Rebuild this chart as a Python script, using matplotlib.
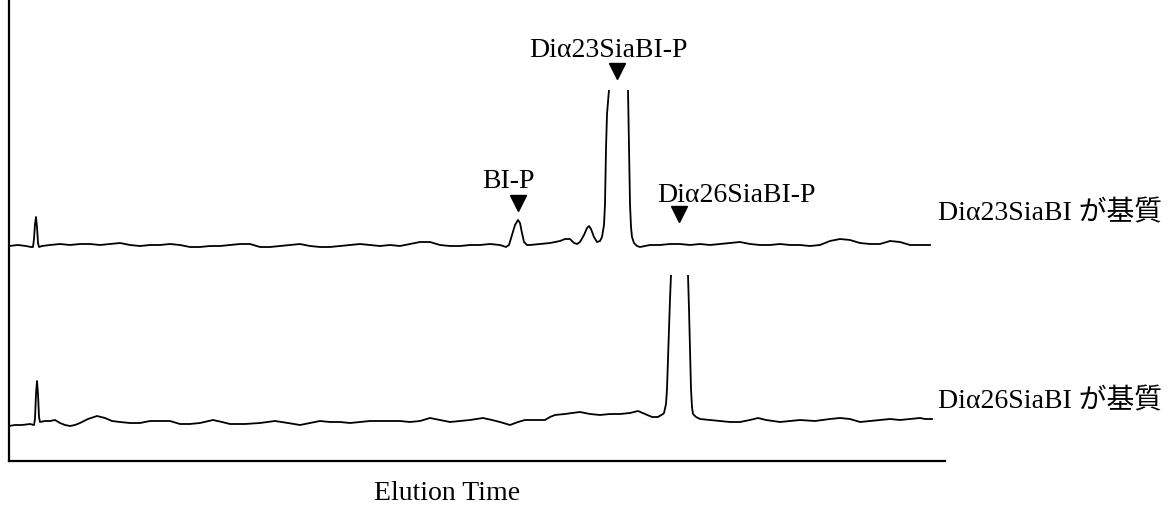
import matplotlib.pyplot as plt

# (elution time [s], detector signal relative to the baseline)
# upper run: Diα23SiaBI as substrate
run_23 = [(0, -1), (9, 0), (17, -1), (22, -2), (24, -2), (25, 6), (26, 21), (27, 28),
          (28, 18), (29, 2), (30, -2), (33, -1), (41, 0), (51, 1), (61, 0), (71, 1),
          (81, 1), (91, 0), (101, 1), (111, 2), (121, 0), (131, -1), (141, 0), (151, 0),
          (161, 1), (171, 0), (181, -2), (191, -2), (201, -1), (211, -1), (221, 0),
          (231, 1), (241, 1), (251, -2), (261, -2), (271, -1), (281, 0), (291, 1),
          (301, -1), (311, -2), (321, -2), (331, -1), (341, 0), (351, 1), (361, 0),
          (371, -1), (381, 0), (391, -1), (401, 1), (411, 3), (421, 3), (431, 0),
          (441, -1), (451, -1), (461, 0), (471, 0), (481, 1), (491, 0), (497, -2),
          (500, 0), (503, 10), (506, 20), (509, 25), (511, 22), (513, 12), (515, 3),
          (518, 0), (521, 0), (531, 1), (541, 2), (551, 4), (556, 6), (561, 6),
          (565, 2), (568, 1), (571, 3), (575, 10), (578, 17), (580, 19), (582, 16),
          (585, 8), (588, 3), (591, 4), (593, 8), (595, 20), (596, 41), (597, 96),
          (598, 131), (600, 155), (604, 420), (609, 800), (614, 420), (619, 155),
          (620, 96), (621, 41), (622, 18), (623, 8), (625, 2), (628, -1), (631, -2),
          (641, 0), (651, 0), (661, 1), (671, 1), (681, 0), (691, 1), (701, 0),
          (711, 1), (721, 2), (731, 3), (741, 1), (751, 0), (761, 0), (771, 1),
          (781, 0), (791, 0), (801, -1), (811, 0), (821, 4), (831, 6), (841, 5),
          (851, 2), (861, 1), (871, 1), (881, 4), (891, 3), (901, 0), (911, 0), (921, 0)]

# lower run: Diα26SiaBI as substrate
run_26 = [(0, -2), (6, -1), (13, -1), (21, 0), (25, -1), (26, 5), (27, 30), (28, 43),
          (29, 30), (30, 7), (31, 2), (36, 3), (41, 3), (46, 4), (51, 1), (56, -1),
          (61, -2), (66, -1), (71, 1), (79, 5), (88, 8), (96, 6), (103, 3), (111, 2),
          (121, 1), (131, 1), (141, 3), (151, 3), (161, 3), (171, 0), (181, 0),
          (191, 1), (204, 4), (213, 2), (221, 0), (236, 0), (251, 1), (266, 3),
          (279, 1), (291, -1), (301, 1), (311, 3), (321, 2), (331, 2), (341, 1),
          (351, 2), (361, 3), (376, 3), (391, 3), (401, 2), (411, 3), (421, 6),
          (431, 4), (441, 2), (451, 3), (461, 4), (474, 6), (483, 4), (491, 2),
          (501, -1), (509, 2), (516, 4), (526, 4), (536, 4), (541, 7), (546, 9),
          (556, 10), (563, 11), (571, 12), (581, 10), (591, 9), (601, 10), (611, 10),
          (621, 11), (629, 13), (636, 10), (643, 7), (649, 7), (654, 10), (655, 11),
          (657, 20), (658, 35), (659, 65), (660, 95), (661, 125), (662, 149),
          (666, 450), (671, 800), (676, 450), (679, 149), (680, 115), (681, 75),
          (682, 35), (683, 17), (684, 10), (687, 7), (691, 5), (701, 4), (711, 3),
          (721, 2), (731, 2), (741, 4), (749, 6), (757, 4), (771, 2), (781, 3),
          (791, 4), (806, 3), (821, 5), (831, 6), (841, 5), (851, 2), (861, 3),
          (871, 4), (881, 5), (891, 4), (901, 5), (911, 6), (916, 5), (923, 5)]

t_23, sig_23 = zip(*run_23)
t_26, sig_26 = zip(*run_26)

peak_labels = ["BI-P", "Diα23SiaBI-P", "Diα26SiaBI-P"]
run_labels = ["Diα23SiaBI が基質", "Diα26SiaBI が基質"]

plt.rcParams['font.family'] = ['Liberation Serif', 'Noto Sans CJK JP']

W, H = 1173, 506
fig = plt.figure(figsize=(W / 100, H / 100), dpi=100)

left, right, bottom = 9, 945, 462  # pixel positions of the frame
t_max = right - left


def frac_axes(top_px):
    return [left / W, (H - bottom) / H, (right - left) / W, (bottom - top_px) / H]


# frame with only the left and bottom spines
ax = fig.add_axes(frac_axes(0))
ax.set_xlim(0, t_max)
ax.set_ylim(0, bottom)
for side in ['top', 'right']:
    ax.spines[side].set_visible(False)
for side in ['left', 'bottom']:
    ax.spines[side].set_linewidth(1.6)
ax.set_xticks([])
ax.set_yticks([])

# each run in its own clipped panel, so the big peaks run off-scale
ax_up = fig.add_axes(frac_axes(91))
ax_up.plot(t_23, sig_23, color='black', lw=1.3)
ax_up.set_xlim(0, t_max)
ax_up.set_ylim(246 - bottom, 246 - 91)
ax_up.axis('off')

ax_lo = fig.add_axes(frac_axes(276))
ax_lo.plot(t_26, sig_26, color='black', lw=1.3)
ax_lo.set_xlim(0, t_max)
ax_lo.set_ylim(425 - bottom, 425 - 276)
ax_lo.axis('off')

# peak markers (heights in frame pixels above the bottom spine)
tri_x = [508.5, 608, 670]
tri_h = [258.5, 390, 247]
txt_x = [499, 599, 727]
txt_h = [274, 405, 260]
for lab, tx, th, mx, mh in zip(peak_labels, txt_x, txt_h, tri_x, tri_h):
    ax.plot(mx, mh, marker='v', color='black', markersize=11, clip_on=False)
    ax.text(tx, th, lab, ha='center', va='baseline', fontsize=20)

fig.text(938 / W, 1 - 220 / H, run_labels[0], fontsize=20, va='baseline')
fig.text(938 / W, 1 - 408 / H, run_labels[1], fontsize=20, va='baseline')
fig.text(447.5 / W, 1 - 500 / H, "Elution Time", fontsize=20, ha='center', va='baseline')

plt.savefig('out.png', dpi=100)
